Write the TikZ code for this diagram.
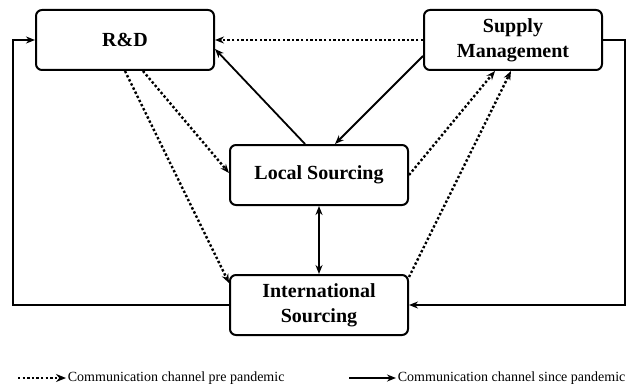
\documentclass[tikz,border=0pt]{standalone}
\usepackage{fontspec}
\setmainfont{Liberation Serif}
\usetikzlibrary{arrows.meta}
\begin{document}
\begin{tikzpicture}[x=1pt,y=1pt,line width=1.8pt,
  box/.style={draw,line width=2pt,rounded corners=6pt,minimum width=178pt,minimum height=60pt,
    align=center,font=\fontsize{20pt}{25pt}\selectfont\bfseries},
  now/.style={-{Stealth[length=9pt,width=7pt]}},
  both/.style={{Stealth[length=9pt,width=7pt]}-{Stealth[length=9pt,width=7pt]}},
  pre/.style={-{Stealth[length=9pt,width=7pt,open]},line width=2.4pt,dash pattern=on 2.4pt off 2.2pt},
  legend/.style={font=\fontsize{14pt}{16pt}\selectfont,inner sep=1pt}]
  \useasboundingbox (0,0) rectangle (628,389);
  \node[box] (rd) at (125,349) {R\&D};
  \node[box] (sm) at (513,349) {Supply\\Management};
  \node[box] (ls) at (319,214) {Local Sourcing};
  \node[box] (is) at (319,84) {International\\Sourcing};

  % pre pandemic
  \draw[pre] (sm.west) -- (rd.east);
  \draw[pre] ([xshift=18pt]rd.south) -- ([yshift=2pt]ls.west);
  \draw[pre] (rd.south) -- ([yshift=-9pt]is.north west);
  \draw[pre] (ls.east) -- ([xshift=-18pt]sm.south);
  \draw[pre] ([yshift=-3pt]is.north east) -- ([xshift=-2pt]sm.south);

  % since pandemic
  \draw[now] ([xshift=-14pt]ls.north) -- ([yshift=-9pt]rd.east);
  \draw[now] ([yshift=-16pt]sm.west) -- ([xshift=16pt]ls.north);
  \draw[both] (ls.south) -- (is.north);
  \draw[now] (is.west) -- ++(-216pt,0) |- (rd.west);
  \draw[now] (sm.east) -- ++(22pt,0) |- (is.east);

  % legend
  \coordinate (lp) at (18,11);
  \node[legend,anchor=west] (lpt) at (66,11) {Communication channel pre pandemic};
  \draw[pre,-{Stealth[length=10pt,width=8pt]}] (lp) -- (lpt.west);
  \coordinate (ln) at (349,11);
  \node[legend,anchor=west] (lnt) at (396,11) {Communication channel since pandemic};
  \draw[now] (ln) -- (lnt.west);
\end{tikzpicture}
\end{document}
